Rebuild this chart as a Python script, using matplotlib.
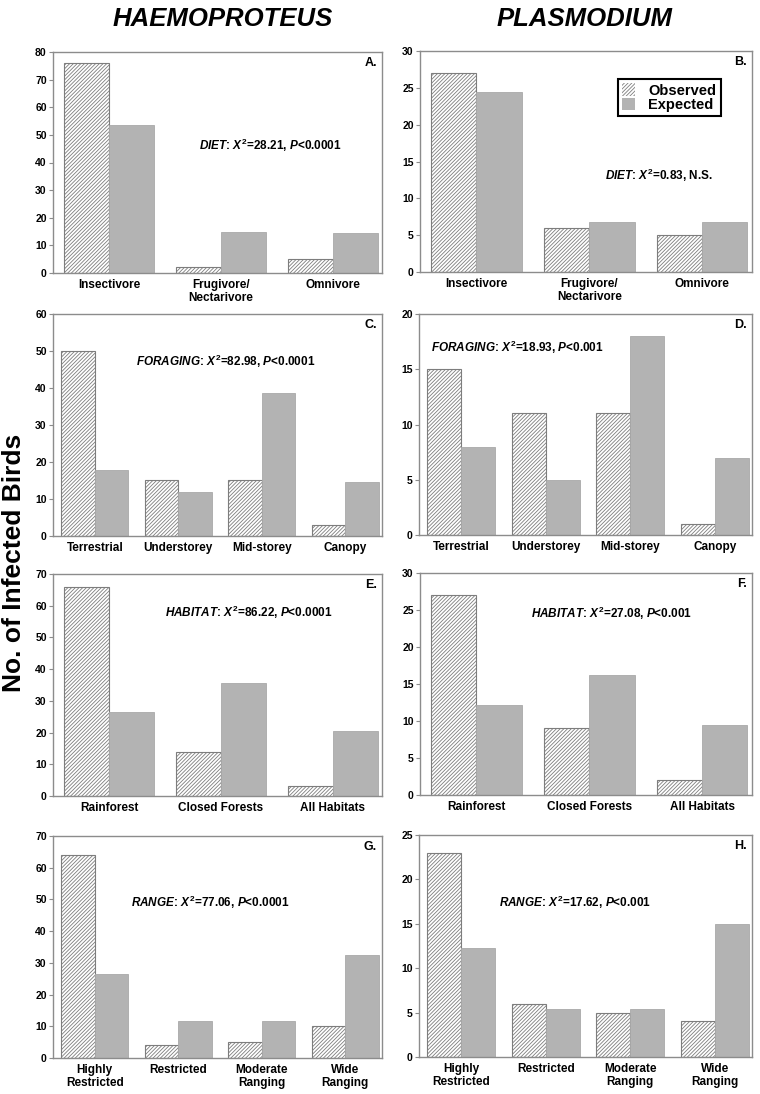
import numpy as np
import matplotlib
matplotlib.use("Agg")
import matplotlib.pyplot as plt
from matplotlib.patches import Patch

plt.rcParams["font.family"] = ["Liberation Sans", "DejaVu Sans"]
plt.rcParams["font.weight"] = "bold"
plt.rcParams["mathtext.fontset"] = "custom"
plt.rcParams["mathtext.it"] = "Liberation Sans:italic:bold"
plt.rcParams["mathtext.rm"] = "Liberation Sans:bold"
plt.rcParams["mathtext.bf"] = "Liberation Sans:bold"
plt.rcParams["hatch.linewidth"] = 0.6

# categories
dietCats = ["Insectivore", "Frugivore/\nNectarivore", "Omnivore"]
forageCats = ["Terrestrial", "Understorey", "Mid-storey", "Canopy"]
habitatCats = ["Rainforest", "Closed Forests", "All Habitats"]
rangeCats = ["Highly\nRestricted", "Restricted", "Moderate\nRanging", "Wide\nRanging"]

# Haemoproteus
haemDietObs = [76, 2, 5]
haemDietExp = [53.4, 14.9, 14.6]
haemForageObs = [50, 15, 15, 3]
haemForageExp = [17.8, 11.9, 38.6, 14.7]
haemHabitatObs = [66, 14, 3]
haemHabitatExp = [26.6, 35.6, 20.6]
haemRangeObs = [64, 4, 5, 10]
haemRangeExp = [26.6, 11.8, 11.8, 32.6]

# Plasmodium
plasDietObs = [27, 6, 5]
plasDietExp = [24.4, 6.8, 6.8]
plasForageObs = [15, 11, 11, 1]
plasForageExp = [8, 5, 18, 7]
plasHabitatObs = [27, 9, 2]
plasHabitatExp = [12.2, 16.2, 9.5]
plasRangeObs = [23, 6, 5, 4]
plasRangeExp = [12.3, 5.4, 5.4, 15.0]

stats = [
    r"$\mathit{DIET}$: $\mathit{X}^2$=28.21, $\mathit{P}$<0.0001",
    r"$\mathit{DIET}$: $\mathit{X}^2$=0.83, N.S.",
    r"$\mathit{FORAGING}$: $\mathit{X}^2$=82.98, $\mathit{P}$<0.0001",
    r"$\mathit{FORAGING}$: $\mathit{X}^2$=18.93, $\mathit{P}$<0.001",
    r"$\mathit{HABITAT}$: $\mathit{X}^2$=86.22, $\mathit{P}$<0.0001",
    r"$\mathit{HABITAT}$: $\mathit{X}^2$=27.08, $\mathit{P}$<0.001",
    r"$\mathit{RANGE}$: $\mathit{X}^2$=77.06, $\mathit{P}$<0.0001",
    r"$\mathit{RANGE}$: $\mathit{X}^2$=17.62, $\mathit{P}$<0.001",
]
letters = ["A.", "B.", "C.", "D.", "E.", "F.", "G.", "H."]

panels = [
    (dietCats, haemDietObs, haemDietExp, 80, 10),
    (dietCats, plasDietObs, plasDietExp, 30, 5),
    (forageCats, haemForageObs, haemForageExp, 60, 10),
    (forageCats, plasForageObs, plasForageExp, 20, 5),
    (habitatCats, haemHabitatObs, haemHabitatExp, 70, 10),
    (habitatCats, plasHabitatObs, plasHabitatExp, 30, 5),
    (rangeCats, haemRangeObs, haemRangeExp, 70, 10),
    (rangeCats, plasRangeObs, plasRangeExp, 25, 5),
]

# axes boxes in pixels: left, top, right, bottom
W, H = 760, 1094
boxes = [
    (53, 52, 382, 273), (420, 51, 752, 272),
    (53, 314, 382, 536), (419, 314, 752, 535),
    (53, 574, 382, 796), (420, 573, 752, 795),
    (53, 836, 382, 1058), (419, 835, 752, 1057),
]
statPos = [(0.66, 0.579), (0.72, 0.439), (0.526, 0.788), (0.294, 0.851),
           (0.596, 0.829), (0.578, 0.82), (0.477, 0.703), (0.468, 0.698)]

spineGray = "#8c8c8c"
expGray = "#b3b3b3"
hatchGray = "#7d7d7d"
hatchPat = "/////////"

fig = plt.figure(figsize=(7.6, 10.94), dpi=100)

for i, (cats, obs, exp, ymax, ystep) in enumerate(panels):
    l, t, r, b = boxes[i]
    ax = fig.add_axes([l / W, 1 - b / H, (r - l) / W, (b - t) / H])
    x = np.arange(len(cats))
    ax.bar(x - 0.2, obs, width=0.4, color="white", edgecolor=hatchGray,
           hatch=hatchPat, linewidth=0.8)
    ax.bar(x + 0.2, exp, width=0.4, color=expGray, edgecolor="#a9a9a9", linewidth=0.6)
    ax.set_xlim(-0.5, len(cats) - 1 + 0.44)
    ax.set_ylim(0, ymax)
    ax.set_yticks(np.arange(0, ymax + 1, ystep))
    ax.set_xticks(x)
    ax.set_xticklabels(cats, fontsize=8.5, fontweight="bold")
    ax.tick_params(axis="x", length=0, pad=4)
    ax.tick_params(axis="y", length=3, width=0.8, color=spineGray, pad=1.5, labelsize=7.5)
    for lab in ax.get_yticklabels():
        lab.set_fontweight("bold")
    for s in ax.spines.values():
        s.set_color(spineGray)
        s.set_linewidth(1.0)
    ax.text(statPos[i][0], statPos[i][1], stats[i], transform=ax.transAxes,
            ha="center", va="center", fontsize=8.5, fontweight="bold")
    ax.text(0.985, 0.95, letters[i], transform=ax.transAxes,
            ha="right", va="center", fontsize=9, fontweight="bold")
    if i == 1:
        handles = [Patch(facecolor="white", edgecolor=hatchGray, hatch=hatchPat, linewidth=0),
                   Patch(facecolor=expGray, edgecolor=expGray, linewidth=0)]
        leg = ax.legend(handles, ["Observed", "Expected"], loc="upper left",
                        bbox_to_anchor=(0.596, 0.873), borderaxespad=0,
                        fancybox=False, framealpha=1, edgecolor="black",
                        handlelength=0.9, handleheight=0.9,
                        labelspacing=0.0, handletextpad=0.9, borderpad=0.3,
                        prop={"weight": "bold", "size": 10.5})
        leg.get_frame().set_linewidth(1.5)

titleFont = ["Liberation Sans Narrow", "Liberation Sans"]
fig.text(223 / W, 1 - 19 / H, "HAEMOPROTEUS", ha="center", va="center",
         fontsize=18.5, fontweight="bold", fontstyle="italic", family=titleFont)
fig.text(585 / W, 1 - 19 / H, "PLASMODIUM", ha="center", va="center",
         fontsize=18.5, fontweight="bold", fontstyle="italic", family=titleFont)
fig.text(14 / W, 1 - 563 / H, "No. of Infected Birds", rotation=90,
         ha="center", va="center", fontsize=19, fontweight="bold")

fig.savefig("out.png", dpi=100)
